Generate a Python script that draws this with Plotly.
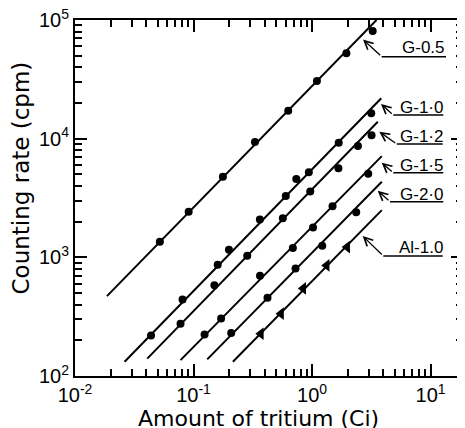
import plotly.graph_objects as go

# ---- data: amount of tritium (Ci) vs counting rate (cpm)
g05_x = [0.052, 0.091, 0.177, 0.33, 0.63, 1.1, 1.95, 3.25]
g05_y = [1350, 2420, 4770, 9360, 17200, 30600, 52400, 80800]
g10_x = [0.0438, 0.0808, 0.160, 0.199, 0.363, 0.601, 0.737, 0.940, 1.68, 3.16]
g10_y = [219, 442, 868, 1160, 2080, 3290, 4570, 5200, 9220, 16400]
g12_x = [0.0777, 0.150, 0.284, 0.567, 0.966, 1.67, 2.44, 3.18]
g12_y = [276, 583, 1030, 2130, 3580, 5620, 8660, 10700]
g15_x = [0.124, 0.171, 0.364, 0.689, 1.02, 1.49, 2.98]
g15_y = [224, 305, 701, 1200, 1780, 2690, 5060]
g20_x = [0.208, 0.421, 0.726, 1.22, 2.36]
g20_y = [230, 457, 806, 1250, 2400]
al10_x = [0.370, 0.548, 0.843, 1.33, 1.98]
al10_y = [227, 335, 547, 855, 1220]

# fitted straight lines (end points)
g05_fit_x = [0.0186, 3.50]
g05_fit_y = [471, 100000]
g10_fit_x = [0.0262, 3.84]
g10_fit_y = [132, 21900]
g12_fit_x = [0.0407, 3.59]
g12_fit_y = [140, 13900]
g15_fit_x = [0.0777, 3.88]
g15_fit_y = [136, 7130]
g20_fit_x = [0.1305, 3.88]
g20_fit_y = [138, 4330]
al10_fit_x = [0.215, 3.88]
al10_fit_y = [132, 2500]

series_labels = ["G-0.5", "G-1·0", "G-1·2", "G-1·5", "G-2·0", "Al-1.0"]

x_tickvals = [0.01, 0.1, 1, 10]
x_ticktext = ["10<sup>-2</sup>", "10<sup>-1</sup>", "10<sup>0</sup>", "10<sup>1</sup>"]
y_tickvals = [100, 1000, 10000, 100000]
y_ticktext = ["10<sup>2</sup>", "10<sup>3</sup>", "10<sup>4</sup>", "10<sup>5</sup>"]

x_title = "Amount of tritium (Ci)"
y_title = "Counting rate (cpm)"

points = [(g05_x, g05_y), (g10_x, g10_y), (g12_x, g12_y), (g15_x, g15_y), (g20_x, g20_y), (al10_x, al10_y)]
fits = [(g05_fit_x, g05_fit_y), (g10_fit_x, g10_fit_y), (g12_fit_x, g12_fit_y),
        (g15_fit_x, g15_fit_y), (g20_fit_x, g20_fit_y), (al10_fit_x, al10_fit_y)]
symbols = ["circle", "circle", "circle", "circle", "circle", "triangle-left"]

fig = go.Figure()
for (fx, fy), (px, py), sym, name in zip(fits, points, symbols, series_labels):
    fig.add_trace(go.Scatter(x=fx, y=fy, mode="lines", line=dict(color="black", width=2),
                             hoverinfo="skip", name=name))
    fig.add_trace(go.Scatter(x=px, y=py, mode="markers", name=name,
                             marker=dict(symbol=sym, size=8 if sym == "circle" else 11, color="black")))

# ---- geometry: the page body adds an 8 px margin, so the figure is 8 px smaller
PAGE = 8
W, H = 465 - PAGE, 428 - PAGE
L, R, T, B = 67, 2, 12, 52
PW, PH = W - L - R, H - T - B


def xp(px):  # screen pixel -> paper
    return (px - PAGE - L) / PW


def yp(py):
    return (H - B - (py - PAGE)) / PH


# (arrow tip, elbow, underline end, text centre) in screen pixels
leaders = [
    ((363, 39.5), (381.7, 56.7), 446, (423, 48)),
    ((381, 104), (393.3, 115), 443.3, (421.7, 107)),
    ((379.3, 131.7), (396.7, 144), 442.7, (421.7, 136)),
    ((381.7, 162.7), (393.3, 172.7), 443.3, (421.7, 165)),
    ((377.7, 190.7), (390, 201.7), 443.3, (421.7, 194)),
    ((362.7, 236), (383.3, 256), 442.7, (421, 247.5)),
]

annotations = []
shapes = []
for label, (tip, elbow, xend, tc) in zip(series_labels, leaders):
    annotations.append(dict(x=xp(tip[0]), y=yp(tip[1]), xref="paper", yref="paper",
                            ax=elbow[0] - tip[0], ay=elbow[1] - tip[1], text="",
                            showarrow=True, arrowhead=5, arrowsize=1.3, arrowwidth=1.3,
                            arrowcolor="black", standoff=0, startstandoff=0))
    annotations.append(dict(x=xp(tc[0]), y=yp(tc[1]), xref="paper", yref="paper",
                            text=label, showarrow=False, xanchor="center", yanchor="middle",
                            font=dict(size=17, family="Liberation Sans", color="black")))
    shapes.append(dict(type="line", xref="paper", yref="paper",
                       x0=xp(elbow[0]), x1=xp(xend), y0=yp(elbow[1]), y1=yp(elbow[1]),
                       line=dict(color="black", width=1.5)))

# axis titles
annotations.append(dict(x=xp(258), y=yp(418), xref="paper", yref="paper", text=x_title,
                        showarrow=False, xanchor="center", yanchor="middle",
                        font=dict(size=22, family="DejaVu Sans", color="black")))
annotations.append(dict(x=xp(20), y=yp(178.5), xref="paper", yref="paper", text=y_title,
                        showarrow=False, xanchor="center", yanchor="middle", textangle=-90,
                        font=dict(size=23, family="DejaVu Sans", color="black")))

minor_x = [m * 10.0 ** k for k in range(-2, 2) for m in range(2, 10)]
minor_y = [m * 10.0 ** k for k in range(2, 5) for m in range(2, 10)]

axis_common = dict(type="log", showline=True, linewidth=2, linecolor="black", mirror="allticks",
                   ticks="inside", ticklen=12, tickwidth=1.5, tickcolor="black",
                   showgrid=False, zeroline=False, ticklabeloverflow="allow",
                   tickfont=dict(size=20, family="Liberation Sans", color="black"))

fig.update_xaxes(range=[-2, 1.274], tickvals=x_tickvals, ticktext=x_ticktext,
                 minor=dict(ticks="inside", ticklen=7, tickwidth=1.5, tickcolor="black",
                            tickvals=minor_x, showgrid=False),
                 **axis_common)
fig.update_yaxes(range=[2, 5], tickvals=y_tickvals, ticktext=y_ticktext,
                 minor=dict(ticks="inside", ticklen=7, tickwidth=1.5, tickcolor="black",
                            tickvals=minor_y, showgrid=False),
                 **axis_common)

fig.update_layout(width=W, height=H, margin=dict(l=L, r=R, t=T, b=B, autoexpand=False),
                  paper_bgcolor="white", plot_bgcolor="white", showlegend=False,
                  annotations=annotations, shapes=shapes,
                  font=dict(family="Liberation Sans", color="black"))

fig.write_html("out.html")
